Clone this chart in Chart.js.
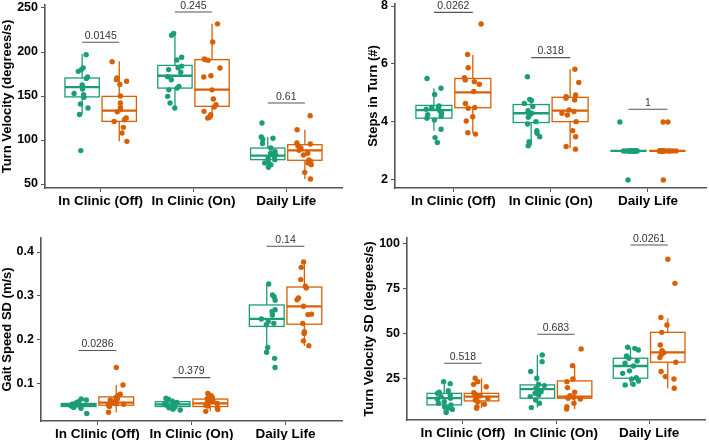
<!DOCTYPE html>
<html>
<head>
<meta charset="utf-8">
<script src="https://cdn.jsdelivr.net/npm/chart.js@4.4.1/dist/chart.umd.min.js"></script>
<style>
    body { margin: 0; background: #fff; }
    #wrap { position: relative; width: 709px; height: 440px; overflow: hidden; }
    canvas { position: absolute; }
</style>
</head>
<body>
<div id="wrap">
    <canvas id="c1" width="354" height="218" style="left:0;top:0"></canvas>
    <canvas id="c2" width="354" height="218" style="left:355px;top:0"></canvas>
    <canvas id="c3" width="354" height="220" style="left:0;top:220px"></canvas>
    <canvas id="c4" width="354" height="220" style="left:355px;top:220px"></canvas>
</div>
<script>
// Categorie e colori dei gruppi
const categorie = ['In Clinic (Off)', 'In Clinic (On)', 'Daily Life'];
const VERDE = '#1B9E77';
const ARANCIO = '#D95F02';

// --- Turn Velocity (degrees/s) ---
const tvOffG = [197, 182, 180, 178, 171.6, 170, 162.5, 160, 158, 153, 151.5, 148.5, 141, 136.4, 129, 88];
const tvOffO = [189, 170.5, 168.6, 166.7, 163, 150, 142, 137, 134.5, 132, 125, 123, 121, 114.4, 108, 98.5];
const tvOnG = [221, 219, 194, 191, 184, 182, 180, 177, 172, 168.5, 161, 159, 157, 149.6, 142, 136.4];
const tvOnO = [232, 211.4, 192, 191.3, 190.5, 181.8, 173, 171.6, 157, 146.6, 140, 137.5, 132.6, 128.8, 126, 125];
const tvDlG = [119.3, 103.4, 102, 101, 96, 91, 87, 85, 83, 81.5, 79.5, 77.7, 75.8, 74, 72, 69];
const tvDlO = [127.7, 111.7, 96.6, 95.5, 93.6, 91, 88.3, 85, 83, 77.3, 75.8, 74, 72, 63.3, 55.7];
// box: [baffo basso, q1, mediana, q3, baffo alto]
const tvBox = [
    [129, 149, 160, 170.5, 197.7], [98.5, 121.2, 133.3, 149.6, 189.4],
    [136.4, 159, 173, 184.8, 220.8], [125, 138.3, 157.2, 191.3, 232.2],
    [69, 77.7, 82.2, 90.9, 103.4], [55.7, 77, 88.3, 94.7, 111.7]
];
const tvPval = [211, 245.5, 142];
const tvPlab = ['0.0145', '0.245', '0.61'];
const tvTicks = [50, 100, 150, 200, 250];

// --- Steps in Turn (#) ---
const stOffG = [5.5, 5.16, 4.95, 4.55, 4.5, 4.47, 4.44, 4.38, 4.3, 4.25, 4.2, 4.13, 4.07, 3.75, 3.46, 3.29];
const stOffO = [7.38, 6.33, 5.87, 5.53, 5.45, 5.39, 5.3, 5.05, 4.64, 4.5, 4.47, 4.18, 4.03, 3.63, 3.58];
const stOnG = [5.56, 4.78, 4.74, 4.64, 4.53, 4.39, 4.3, 4.24, 4.16, 4.01, 3.93, 3.7, 3.61, 3.49, 3.32, 3.18];
const stOnO = [5.82, 5.36, 4.93, 4.87, 4.82, 4.76, 4.41, 4.36, 4.3, 4.24, 4.01, 3.7, 3.49, 3.15, 3.06];
const stDlG = [4, 3, 3, 3, 3, 3, 3, 3, 3, 3, 3, 3, 3, 3, 3, 2];
const stDlO = [4, 4, 3, 3, 3, 3, 3, 3, 3, 3, 3, 3, 3, 3, 3, 2];
const stBox = [
    [3.7, 4.13, 4.41, 4.57, 5.16], [3.6, 4.49, 5.02, 5.5, 6.31],
    [3.18, 3.98, 4.3, 4.6, 4.78], [3.09, 4.01, 4.39, 4.85, 5.82],
    [3, 3, 3, 3, 3], [3, 3, 3, 3, 3]
];
const stPval = [7.78, 6.22, 4.44];
const stPlab = ['0.0262', '0.318', '1'];
const stTicks = [2, 4, 6, 8];

// --- Gait Speed SD (m/s) ---
const gsOffG = [0.064, 0.062, 0.058, 0.056, 0.054, 0.053, 0.052, 0.051, 0.05, 0.049, 0.048, 0.047, 0.045, 0.043, 0.031];
const gsOffO = [0.136, 0.096, 0.075, 0.072, 0.067, 0.064, 0.062, 0.058, 0.056, 0.054, 0.052, 0.05, 0.047, 0.034];
const gsOnG = [0.066, 0.063, 0.06, 0.058, 0.056, 0.055, 0.053, 0.052, 0.051, 0.05, 0.048, 0.046, 0.044, 0.041, 0.039];
const gsOnO = [0.077, 0.072, 0.068, 0.065, 0.062, 0.06, 0.058, 0.056, 0.054, 0.052, 0.05, 0.048, 0.045, 0.04, 0.036];
const gsDlG = [0.327, 0.302, 0.298, 0.29, 0.268, 0.264, 0.256, 0.247, 0.241, 0.237, 0.234, 0.182, 0.171, 0.157, 0.136];
const gsDlO = [0.377, 0.365, 0.337, 0.322, 0.318, 0.295, 0.291, 0.276, 0.258, 0.257, 0.237, 0.218, 0.214, 0.197, 0.186];
const gsBox = [
    [0.043, 0.047, 0.0504, 0.054, 0.064], [0.034, 0.05, 0.056, 0.069, 0.096],
    [0.039, 0.047, 0.052, 0.058, 0.066], [0.036, 0.047, 0.054, 0.064, 0.077],
    [0.171, 0.23, 0.247, 0.279, 0.327], [0.186, 0.235, 0.276, 0.32, 0.377]
];
const gsPval = [0.175, 0.113, 0.413];
const gsPlab = ['0.0286', '0.379', '0.14'];
const gsTicks = [0.1, 0.2, 0.3, 0.4];

// --- Turn Velocity SD (degrees/s) ---
const tsOffG = [23.5, 22.4, 18.5, 17.6, 17, 16.1, 15.2, 14.3, 13.9, 12.4, 11.5, 10.6, 9.6, 8.7, 8.1, 6.3];
const tsOffO = [25.4, 23.5, 22, 20.7, 17.4, 16.5, 15.7, 15.2, 14.3, 13.3, 12.4, 11, 9.6, 8.7];
const tsOnG = [38.3, 34.6, 29.1, 25.4, 22, 21.3, 19.8, 18.9, 18, 17, 16.1, 15.2, 13.3, 11.5, 9.1];
const tsOnO = [41.7, 32.4, 25, 23.5, 20.2, 17.6, 15.7, 15.2, 14.8, 14.3, 13.9, 11.5, 9.6, 8.3];
const tsDlG = [42.6, 42, 41.1, 37.8, 36.5, 35, 33.7, 32.2, 29.5, 28.1, 25.7, 25, 23.9, 22, 21.7];
const tsDlO = [91.5, 78.1, 59.1, 55, 50.9, 43.9, 40.7, 39.6, 38.3, 36.9, 34.3, 29.1, 26.3, 25, 19.8];
const tsBox = [
    [6.3, 10.6, 14.3, 17, 23.5], [8.7, 12.8, 15.2, 17, 25.4],
    [9.1, 14.3, 19.3, 21.7, 38.3], [8.3, 14.3, 15.2, 23.9, 32.4],
    [21.7, 25.4, 32.2, 36.5, 42.6], [19.8, 34.3, 39.8, 50.9, 58.7]
];
const tsPval = [33.7, 49.8, 99.4];
const tsPlab = ['0.518', '0.683', '0.0261'];
const tsTicks = [25, 50, 75, 100];

const DODGE = 0.2;     // spostamento dei due gruppi
const MEZZO_BOX = 0.185;
const FONT = "'Liberation Sans', Arial, sans-serif";
Chart.defaults.font.family = FONT;

// jitter deterministico (solo posizione orizzontale)
function jitter(i, seme) {
    const s = Math.sin((i + 1) * 12.9898 + seme * 78.233) * 43758.5453;
    return ((s - Math.floor(s)) - 0.5) * 0.18;
}

// Funzione per creare un pannello
function creaPannello(idCanvas, p) {
    const canvas = document.getElementById(idCanvas);
    const w = canvas.width, h = canvas.height;

    const datasets = p.punti.map((valori, k) => {
        const cat = Math.floor(k / 2) + 1;
        const lato = k % 2 === 0 ? -DODGE : DODGE;
        return {
            data: valori.map((v, i) => ({ x: cat + lato + jitter(i, k + p.seme), y: v })),
            backgroundColor: k % 2 === 0 ? VERDE : ARANCIO,
            borderWidth: 0,
            pointRadius: 2.7,
            pointHoverRadius: 2.7
        };
    });

    // disegna box e linee dei p-value usando le scale del grafico
    const boxPlugin = {
        id: 'box_' + idCanvas,
        beforeDatasetsDraw(chart) {
            const ctx = chart.ctx, sx = chart.scales.x, sy = chart.scales.y;
            p.box.forEach((b, k) => {
                const c = Math.floor(k / 2) + 1 + (k % 2 === 0 ? -DODGE : DODGE);
                const col = k % 2 === 0 ? VERDE : ARANCIO;
                const xl = sx.getPixelForValue(c - MEZZO_BOX);
                const xr = sx.getPixelForValue(c + MEZZO_BOX);
                const xm = sx.getPixelForValue(c);
                ctx.save();
                ctx.strokeStyle = col;
                ctx.lineWidth = 1.3;
                ctx.beginPath();
                ctx.moveTo(xm, sy.getPixelForValue(b[0]));
                ctx.lineTo(xm, sy.getPixelForValue(b[1]));
                ctx.moveTo(xm, sy.getPixelForValue(b[3]));
                ctx.lineTo(xm, sy.getPixelForValue(b[4]));
                ctx.stroke();
                const yt = sy.getPixelForValue(b[3]), yb = sy.getPixelForValue(b[1]);
                ctx.fillStyle = '#fff';
                ctx.fillRect(xl, yt, xr - xl, yb - yt);
                ctx.strokeRect(xl, yt, xr - xl, yb - yt);
                ctx.lineWidth = 2.3;
                ctx.beginPath();
                ctx.moveTo(xl, sy.getPixelForValue(b[2]));
                ctx.lineTo(xr, sy.getPixelForValue(b[2]));
                ctx.stroke();
                ctx.restore();
            });
        },
        afterDatasetsDraw(chart) {
            const ctx = chart.ctx, sx = chart.scales.x, sy = chart.scales.y;
            p.pval.forEach((v, k) => {
                const x1 = sx.getPixelForValue(k + 1 - DODGE);
                const x2 = sx.getPixelForValue(k + 1 + DODGE);
                const yy = sy.getPixelForValue(v);
                ctx.save();
                ctx.strokeStyle = '#555';
                ctx.lineWidth = 1.1;
                ctx.beginPath();
                ctx.moveTo(x1, yy);
                ctx.lineTo(x2, yy);
                ctx.stroke();
                ctx.fillStyle = '#333';
                ctx.font = '10.5px ' + FONT;
                ctx.textAlign = 'center';
                ctx.textBaseline = 'bottom';
                ctx.fillText(p.plab[k], (x1 + x2) / 2, yy - 1);
                ctx.restore();
            });
        }
    };

    new Chart(canvas.getContext('2d'), {
        type: 'scatter',
        data: { datasets: datasets },
        plugins: [boxPlugin],
        options: {
            responsive: false,
            animation: false,
            devicePixelRatio: 1,
            layout: { padding: { left: 0, top: p.area.t, right: w - p.area.r, bottom: 0 } },
            plugins: { legend: { display: false }, tooltip: { enabled: false } },
            scales: {
                x: {
                    type: 'linear',
                    min: 0.4,
                    max: 3.6,
                    afterBuildTicks: s => { s.ticks = [1, 2, 3].map(v => ({ value: v })); },
                    afterFit: s => { s.height = h - p.area.b; s.paddingLeft = 0; s.paddingRight = 0; },
                    ticks: {
                        callback: v => categorie[Math.round(v) - 1],
                        font: { size: 13.5, weight: 'bold' },
                        color: '#000',
                        padding: 1,
                        autoSkip: false,
                        maxRotation: 0
                    },
                    grid: { drawOnChartArea: false, tickLength: 4, color: '#555', lineWidth: 1 },
                    border: { color: '#555', width: 1.6 }
                },
                y: {
                    min: p.yMin,
                    max: p.yMax,
                    afterBuildTicks: s => { s.ticks = p.ticks.map(v => ({ value: v })); },
                    afterFit: s => { s.width = p.area.l; s.paddingTop = 0; s.paddingBottom = 0; },
                    ticks: {
                        callback: v => String(v),
                        font: { size: 12.5, weight: 'bold' },
                        color: '#000',
                        padding: 3
                    },
                    title: {
                        display: true,
                        text: p.titolo,
                        font: { size: 13, weight: 'bold' },
                        color: '#000',
                        padding: { top: p.titPad, bottom: 0 }
                    },
                    grid: { drawOnChartArea: false, tickLength: 4, color: '#555', lineWidth: 1 },
                    border: { color: '#555', width: 1.6 }
                }
            }
        }
    });
}

// Creare i grafici all'avvio della pagina
document.addEventListener('DOMContentLoaded', () => {
    creaPannello('c1', {
        punti: [tvOffG, tvOffO, tvOnG, tvOnO, tvDlG, tvDlO], box: tvBox,
        pval: tvPval, plab: tvPlab, ticks: tvTicks, yMin: 45.5, yMax: 253.4,
        titolo: 'Turn Velocity (degrees/s)', titPad: 0, seme: 1,
        area: { l: 45, r: 342, t: 5, b: 188 }
    });
    creaPannello('c2', {
        punti: [stOffG, stOffO, stOnG, stOnO, stDlG, stDlO], box: stBox,
        pval: stPval, plab: stPlab, ticks: stTicks, yMin: 1.72, yMax: 8.07,
        titolo: 'Steps in Turn (#)', titPad: 11, seme: 7,
        area: { l: 40, r: 352, t: 4, b: 188 }
    });
    creaPannello('c3', {
        punti: [gsOffG, gsOffO, gsOnG, gsOnO, gsDlG, gsDlO], box: gsBox,
        pval: gsPval, plab: gsPlab, ticks: gsTicks, yMin: 0.0139, yMax: 0.432,
        titolo: 'Gait Speed SD (m/s)', titPad: 0, seme: 13,
        area: { l: 41, r: 342, t: 18, b: 201 }
    });
    creaPannello('c4', {
        punti: [tsOffG, tsOffO, tsOnG, tsOnO, tsDlG, tsDlO], box: tsBox,
        pval: tsPval, plab: tsPlab, ticks: tsTicks, yMin: 2.2, yMax: 103.3,
        titolo: 'Turn Velocity SD (degrees/s)', titPad: 7, seme: 19,
        area: { l: 52, r: 350, t: 18, b: 200 }
    });
});
</script>
</body>
</html>
